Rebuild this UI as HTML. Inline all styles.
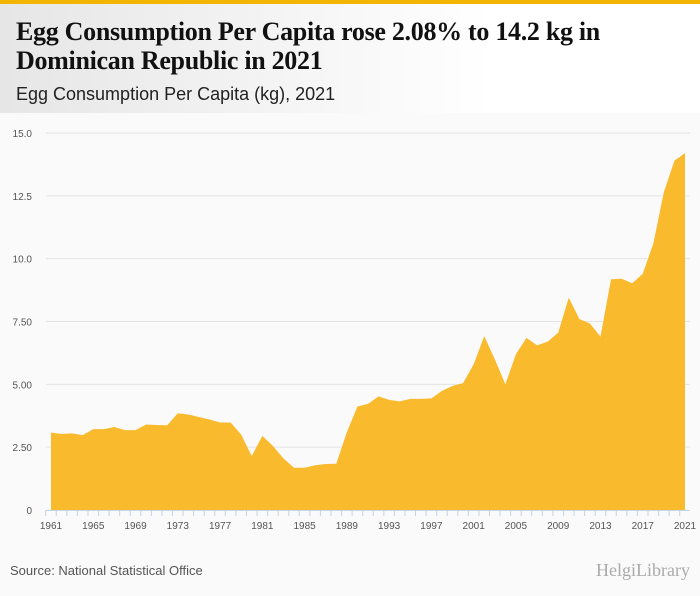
<!DOCTYPE html>
<html><head><meta charset="utf-8"><style>
body{margin:0;width:700px;height:596px;overflow:hidden;background:#fafafa;font-family:"Liberation Sans",sans-serif}
#hdr{position:absolute;left:0;top:0;width:700px;height:113px;background:linear-gradient(90deg,#e6e6e6,#fff 70%);border-top:4px solid #f5b400;box-sizing:border-box}
#t{position:absolute;left:16px;top:13px;font-family:"Liberation Serif",serif;font-weight:bold;font-size:26px;line-height:29px;color:#111;width:680px;letter-spacing:-0.3px}
#st{position:absolute;left:16px;top:80px;font-size:18px;color:#222}
#src{position:absolute;left:10px;top:563px;font-size:13px;color:#555}
#logo{position:absolute;right:10px;top:560px;font-size:18px;color:#aaa;font-family:"Liberation Serif",serif}
</style></head><body>
<div id="hdr">
<div id="t">Egg Consumption Per Capita rose 2.08% to 14.2 kg in Dominican Republic in 2021</div>
<div id="st">Egg Consumption Per Capita (kg), 2021</div>
</div>
<svg id="c" width="700" height="596" style="position:absolute;left:0;top:0"></svg>
<div id="src">Source: National Statistical Office</div>
<div id="logo">HelgiLibrary</div>
<script>
const years=[];for(let y=1961;y<=2021;y++)years.push(y);
const values=[3.08,3.03,3.05,2.98,3.22,3.22,3.30,3.18,3.18,3.40,3.38,3.37,3.85,3.80,3.70,3.60,3.48,3.48,3.00,2.15,2.95,2.55,2.05,1.68,1.68,1.78,1.83,1.84,3.1,4.12,4.22,4.52,4.38,4.32,4.42,4.42,4.44,4.74,4.94,5.05,5.8,6.92,6.0,5.0,6.2,6.85,6.55,6.7,7.05,8.45,7.6,7.42,6.9,9.18,9.2,9.02,9.4,10.6,12.65,13.9,14.2];
const yTicks=[0,2.5,5,7.5,10,12.5,15];
const yLabels=["0","2.50","5.00","7.50","10.0","12.5","15.0"];
const xLabelYears=[1961,1965,1969,1973,1977,1981,1985,1989,1993,1997,2001,2005,2009,2013,2017,2021];
const svg=document.getElementById('c'),NS='http://www.w3.org/2000/svg';
const X=y=>51+(y-1961)*(685-51)/60, Y=v=>510-v*(510-133)/15;
function mk(t,a){const e=document.createElementNS(NS,t);for(const k in a)e.setAttribute(k,a[k]);svg.appendChild(e);return e;}
yTicks.forEach((v,i)=>{
 if(v>0){const l=mk('line',{x1:46,x2:690,y1:Y(v),y2:Y(v),stroke:'#e3e3e3'});
 
 }
 const t=mk('text',{x:32,y:Y(v)+4,'text-anchor':'end','font-size':'10',fill:'#555','font-family':'Liberation Sans'});t.textContent=yLabels[i];
 
 
});
let d='M'+X(years[0])+','+Y(0);
years.forEach((y,i)=>d+='L'+X(y)+','+Y(values[i]));
d+='L'+X(years[years.length-1])+','+Y(0)+'Z';
const a=mk('path',{d:d,fill:'#f9bb2d'});


const ax=mk('line',{x1:46,x2:690,y1:510.5,y2:510.5,stroke:'#c5d3e6'});


years.forEach(y=>{const t=mk('line',{x1:X(y)-5.3,x2:X(y)-5.3,y1:510,y2:516,stroke:'#c5d3e6'});
 
 });
xLabelYears.forEach(y=>{const t=mk('text',{x:X(y),y:529,'text-anchor':'middle','font-size':'10',fill:'#555','font-family':'Liberation Sans'});t.textContent=y;
 
 });
</script>
</body></html>
